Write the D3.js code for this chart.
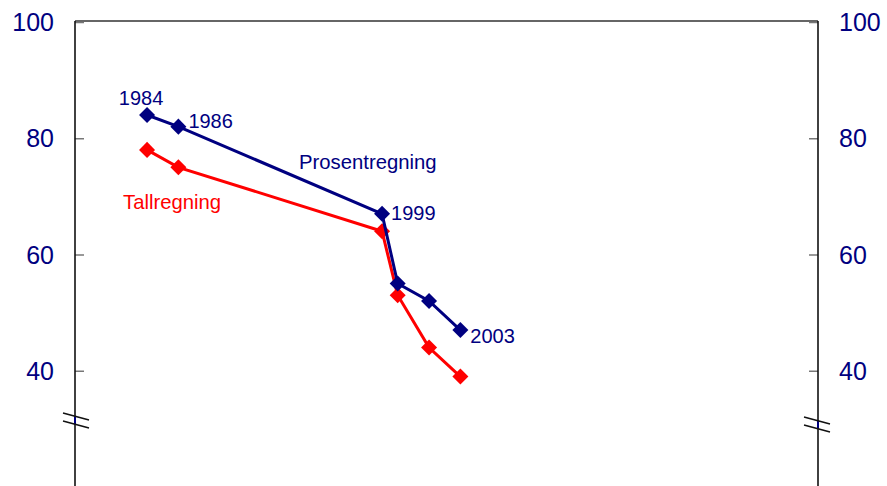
<!DOCTYPE html>
<html>
<head>
<meta charset="utf-8">
<script src="https://cdn.jsdelivr.net/npm/d3@7"></script>
<style>
  body { margin: 0; background: #fff; }
  text { font-family: "Liberation Sans", Arial, sans-serif; }
</style>
</head>
<body>
<div id="container"></div>
<script>
// x position of each survey on a year scale, and the label shown at some of them
var xPos = [1984, 1986, 1999, 2000, 2002, 2004]
var pointLabels = ["1984", "1986", "1999", "", "", "2003"]

// share of correct answers (%)
var prosentregning = [84, 82, 67, 55, 52, 47]
var tallregning = [78, 75, 64, 53, 44, 39]

var yTicks = [40, 60, 80, 100]

var navy = "#000080"
var red = "#ff0000"

var width = 887, height = 486
var plotLeft = 75, plotRight = 818, plotTop = 21

var svg = d3.select("#container").append("svg")
  .attr("width", width)
  .attr("height", height)

var x = d3.scaleLinear().domain([1979.4, 2026.83]).range([plotLeft, plotRight])
var y = d3.scaleLinear().domain([20, 100]).range([487, plotTop + 1])

// frame: top border
svg.append("line")
  .attr("x1", plotLeft).attr("x2", plotRight)
  .attr("y1", plotTop).attr("y2", plotTop)
  .attr("stroke", "#333").attr("stroke-width", 1.5)

// axes
var yAxisL = d3.axisRight(y).tickValues(yTicks).tickSize(9).tickFormat("")
var yAxisR = d3.axisLeft(y).tickValues(yTicks).tickSize(9).tickFormat("")

function styleAxis(g) {
  g.select(".domain").remove()
  g.selectAll(".tick line").attr("stroke", "#777").attr("stroke-width", 1.5)
}
svg.append("g").attr("transform", `translate(${plotLeft},0)`).call(yAxisL).call(styleAxis)
svg.append("g").attr("transform", `translate(${plotRight},0)`).call(yAxisR).call(styleAxis)

;[plotLeft, plotRight].forEach(function(ax) {
  svg.append("line")
    .attr("x1", ax).attr("x2", ax)
    .attr("y1", plotTop).attr("y2", height)
    .attr("stroke", "#111").attr("stroke-width", 1.6)
})

// tick labels
yTicks.forEach(function(t) {
  svg.append("text")
    .attr("x", plotLeft - 21).attr("y", y(t))
    .attr("text-anchor", "end").attr("dominant-baseline", "central")
    .attr("font-size", 25).attr("fill", navy)
    .text(t)
  svg.append("text")
    .attr("x", plotRight + 21).attr("y", y(t))
    .attr("text-anchor", "start").attr("dominant-baseline", "central")
    .attr("font-size", 25).attr("fill", navy)
    .text(t)
})

// axis break marks
function breakMark(ax, cy, dx0, dx1) {
  svg.append("line")
    .attr("x1", ax).attr("x2", ax)
    .attr("y1", cy - 4).attr("y2", cy + 4)
    .attr("stroke", navy).attr("stroke-width", 2)
  ;[-4, 4].forEach(function(off) {
    svg.append("line")
      .attr("x1", ax + dx0).attr("y1", cy + off - 3.5)
      .attr("x2", ax + dx1).attr("y2", cy + off + 3.5)
      .attr("stroke", "#111").attr("stroke-width", 1.6)
  })
}
breakMark(plotLeft, 420.5, -12, 14)
breakMark(plotRight, 424.5, -14, 12)

// series
var line = d3.line()
  .x(function(d) { return x(d.x) })
  .y(function(d) { return y(d.v) })

var series = [
  { name: "Tallregning", color: red, values: tallregning },
  { name: "Prosentregning", color: navy, values: prosentregning }
]

series.forEach(function(s) {
  var pts = s.values.map(function(v, i) { return { x: xPos[i], v: v } })
  svg.append("path")
    .datum(pts)
    .attr("fill", "none")
    .attr("stroke", s.color)
    .attr("stroke-width", 3)
    .attr("d", line)
  svg.selectAll(null)
    .data(pts)
    .enter().append("path")
    .attr("d", d3.symbol(d3.symbolSquare, 128))
    .attr("transform", function(d) { return `translate(${x(d.x)},${y(d.v)}) rotate(45)` })
    .attr("fill", s.color)
})

// year labels on the Prosentregning points
var labelOffsets = [[-6, -10, "middle"], [10, -6, "start"], [9, -1, "start"], null, null, [10, 6, "start"]]
pointLabels.forEach(function(lab, i) {
  if (!lab) return
  var o = labelOffsets[i]
  svg.append("text")
    .attr("x", x(xPos[i]) + o[0])
    .attr("y", y(prosentregning[i]) + o[1])
    .attr("text-anchor", o[2])
    .attr("dominant-baseline", i === 0 ? "auto" : "central")
    .attr("font-size", 20)
    .attr("fill", navy)
    .text(lab)
})

// series names
svg.append("text")
  .attr("x", 299).attr("y", 169)
  .attr("font-size", 20.3).attr("fill", navy)
  .text("Prosentregning")
svg.append("text")
  .attr("x", 123).attr("y", 209)
  .attr("font-size", 20.3).attr("fill", red)
  .text("Tallregning")
</script>
</body>
</html>
